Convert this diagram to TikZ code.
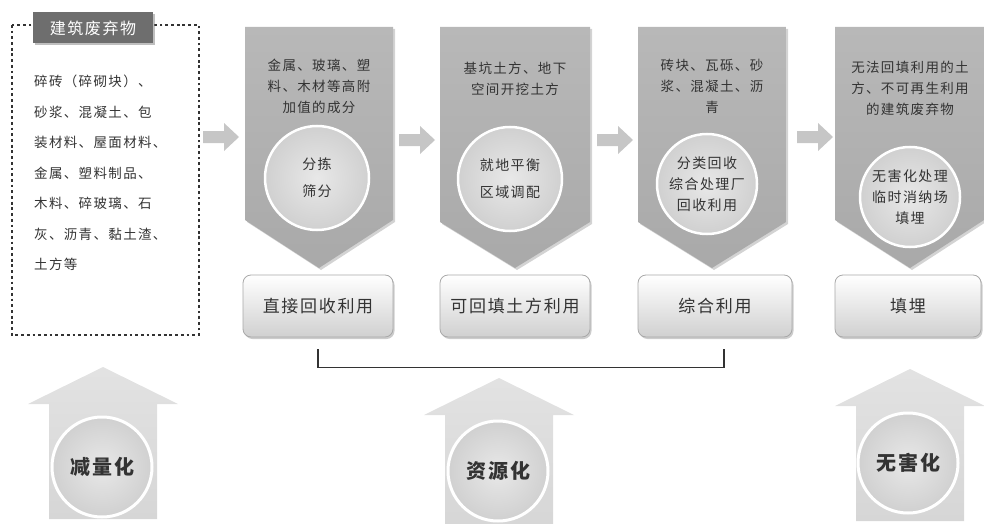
\documentclass[tikz,border=0pt]{standalone}
\usepackage{fontspec}
\newfontfamily\cjk[LetterSpace=10]{Noto Sans CJK SC}
\usetikzlibrary{shadows,calc}
\definecolor{chevgray}{HTML}{A9A9A9}
\definecolor{chevtop}{HTML}{B8B8B8}
\definecolor{ringin}{HTML}{E8E8E8}
\definecolor{ringout}{HTML}{D0D0D0}
\definecolor{txt}{HTML}{333333}
\definecolor{tabgray}{HTML}{6E6E6E}
\definecolor{arrgray}{HTML}{C6C6C6}
\definecolor{bigarr}{HTML}{D6D6D6}
\definecolor{boxedge}{HTML}{A8A8A8}
\begin{document}
\begin{tikzpicture}[x=1pt,y=-1pt,
  chev/.style={top color=chevtop,bottom color=chevgray,draw=none,
    drop shadow={shadow xshift=2pt,shadow yshift=-2pt,opacity=0.35}},
  ring/.style={circle,draw=white,line width=2.5pt,inner color=ringin,outer color=ringout,
    align=center,text=txt,font=\cjk\fontsize{14}{27}\selectfont,inner sep=0pt},
  toptext/.style={align=center,text=txt,font=\cjk\fontsize{13.5}{21}\selectfont},
  resbox/.style={rounded corners=8pt,draw=boxedge,line width=0.8pt,top color=white,bottom color=ringout,
    minimum height=62pt,text=txt,font=\cjk\fontsize{17}{20}\selectfont,
    drop shadow={shadow xshift=1.5pt,shadow yshift=-2pt,opacity=0.4}},
  bigring/.style={circle,draw=white,line width=3pt,inner color=ringin,outer color=ringout,
    minimum size=100pt,text=txt,font=\cjk\fontsize{20}{22}\selectfont\bfseries},
  sarrow/.pic={\fill[arrgray] (-18,-6) -- (3,-6) -- (3,-14) -- (18,0) -- (3,14) -- (3,6) -- (-18,6) -- cycle;},
  uparrow/.pic={\path[top color=white!30!bigarr,bottom color=bigarr] (0,0) -- (75,37) -- (54,37) -- (54,152) -- (-54,152) -- (-54,37) -- (-75,37) -- cycle;}
]
\useasboundingbox (0,0) rectangle (984,524);

% left dotted box
\draw[line width=2.8pt,color=black!80,dash pattern=on 2.8pt off 2.9pt]
  (12,25) rectangle (199,335);
\node[fill=tabgray,text=white,minimum width=120pt,minimum height=31pt,inner sep=0pt,
  font=\cjk\fontsize{16}{18}\selectfont,
  drop shadow={shadow xshift=2pt,shadow yshift=-2pt,opacity=0.5}] (tab) at (93,28) {建筑废弃物};
\node[anchor=north west,align=left,text=txt,font=\cjk\fontsize{13.5}{30.5}\selectfont,inner sep=0pt]
  (list) at (34,75) {碎砖（碎砌块）、\\砂浆、混凝土、包\\装材料、屋面材料、\\金属、塑料制品、\\木料、碎玻璃、石\\灰、沥青、黏土渣、\\土方等};

% chevrons
\path[chev] (245,27) -- (393,27) -- (393,220) -- (319,268) -- (245,220) -- cycle;
\path[chev] (440,27) -- (590,27) -- (590,222) -- (515,268) -- (440,222) -- cycle;
\path[chev] (638,27) -- (786,27) -- (786,222) -- (712,268) -- (638,222) -- cycle;
\path[chev] (835,27) -- (984,27) -- (984,220) -- (910,268) -- (835,220) -- cycle;

% top texts
\node[toptext] (t1) at (319,86) {金属、玻璃、塑\\料、木材等高附\\加值的成分};
\node[toptext] (t2) at (515,79) {基坑土方、地下\\空间开挖土方};
\node[toptext] (t3) at (712,86) {砖块、瓦砾、砂\\浆、混凝土、沥\\青};
\node[toptext] (t4) at (910,88) {无法回填利用的土\\方、不可再生利用\\的建筑废弃物};

% circles
\node[ring,minimum size=104pt] (c1) at (317,178) {分拣\\筛分};
\node[ring,minimum size=104pt] (c2) at (510,179) {就地平衡\\区域调配};
\node[ring,minimum size=100pt,font=\cjk\fontsize{14}{21}\selectfont] (c3) at (707,184) {分类回收\\综合处理厂\\回收利用};
\node[ring,minimum size=100pt,font=\cjk\fontsize{14}{21}\selectfont] (c4) at (910,197) {无害化处理\\临时消纳场\\填埋};

% small arrows
\pic at (221,137) {sarrow};
\pic at (417,140) {sarrow};
\pic at (615,140) {sarrow};
\pic at (815,137) {sarrow};

% result boxes
\node[resbox,minimum width=150pt] (b1) at (318,306) {直接回收利用};
\node[resbox,minimum width=150pt] (b2) at (515,306) {可回填土方利用};
\node[resbox,minimum width=154pt] (b3) at (715,306) {综合利用};
\node[resbox,minimum width=146pt] (b4) at (908,306) {填埋};

% bracket
\coordinate (k1) at ($(b1.south)+(0,12)$);
\coordinate (k3) at ($(b3.south)+(9,12)$);
\draw[line width=1.3pt,color=txt] (k1) -- ++(0,18) -| (k3);

% big up arrows
\pic at (103,367) {uparrow};
\pic at (499,378) {uparrow};
\pic at (910,369) {uparrow};
\node[bigring] (r1) at (102,467) {减量化};
\node[bigring] (r2) at (498,471) {资源化};
\node[bigring] (r3) at (908,463) {无害化};
\end{tikzpicture}
\end{document}
